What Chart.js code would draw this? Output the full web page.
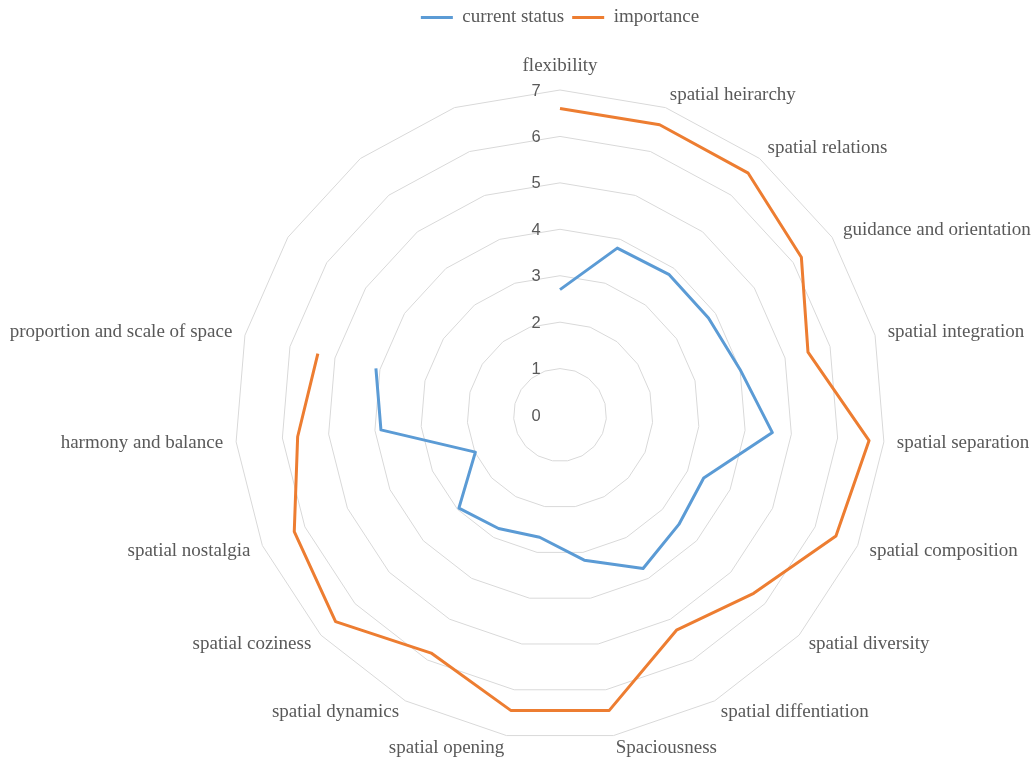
<!DOCTYPE html>
<html>
<head>
<meta charset="utf-8">
<title>Spatial qualities</title>
<script src="https://cdn.jsdelivr.net/npm/chart.js@4"></script>
<style>
  html, body { margin: 0; padding: 0; background: #fff; }
  #wrap { width: 1035px; height: 760px; position: relative; }
</style>
</head>
<body>
<div id="wrap"><canvas id="radar"></canvas></div>
<script>
const categories = [
  "flexibility", "spatial heirarchy", "spatial relations", "guidance and orientation",
  "spatial integration", "spatial separation", "spatial composition", "spatial diversity",
  "spatial diffentiation", "Spaciousness", "spatial opening", "spatial dynamics",
  "spatial coziness", "spatial nostalgia", "harmony and balance", "proportion and scale of space"
];
const currentStatus = [2.7, 3.8, 3.83, 3.82, 4.0, 4.59, 3.38, 3.48, 3.76, 3.17, 2.67, 2.78, 2.96, 1.99, 3.87, 4.09];
const importance = [6.6, 6.61, 6.6, 6.21, 5.51, 6.68, 6.49, 5.67, 5.27, 6.45, 6.45, 5.83, 6.57, 6.25, 5.67, 5.38];
const tickLabels = [0, 1, 2, 3, 4, 5, 6, 7];
const blankSpokes = 3; // unlabeled spokes after the last category

const TEXT_COLOR = "#595959";
const SERIF = '"Liberation Serif", "Times New Roman", serif';
const SANS = '"Liberation Sans", Arial, sans-serif';

const labels = categories.concat(Array(blankSpokes).fill(""));
const pad = arr => arr.concat(Array(blankSpokes).fill(null));

// tick values and category names drawn around the web
const radarText = {
  id: "radarText",
  afterDraw(chart) {
    const r = chart.scales.r;
    const ctx = chart.ctx;
    ctx.save();
    ctx.fillStyle = TEXT_COLOR;

    ctx.font = "16.5px " + SANS;
    ctx.textAlign = "center";
    ctx.textBaseline = "middle";
    tickLabels.forEach(v => {
      ctx.fillText(String(v), r.xCenter - 24, r.yCenter - r.getDistanceFromCenterForValue(v) + 1);
    });

    ctx.font = "19px " + SERIF;
    chart.data.labels.forEach((name, i) => {
      if (!name) return;
      const p = r.getPointPosition(i, r.drawingArea + 13);
      const deg = Math.round(r.getIndexAngle(i) * 180 / Math.PI) % 360;
      if (deg === 0 || deg === 180) ctx.textAlign = "center";
      else ctx.textAlign = deg < 180 ? "left" : "right";
      ctx.fillText(name, p.x, deg === 0 ? p.y - 11 : p.y);
    });
    ctx.restore();
  }
};

new Chart(document.getElementById("radar"), {
  type: "radar",
  data: {
    labels: labels,
    datasets: [
      {
        label: "current status",
        data: pad(currentStatus),
        borderColor: "#5B9BD5",
        backgroundColor: "#5B9BD5",
        borderWidth: 3,
        borderJoinStyle: "round",
        fill: false,
        pointRadius: 0,
        spanGaps: false
      },
      {
        label: "importance",
        data: pad(importance),
        borderColor: "#ED7D31",
        backgroundColor: "#ED7D31",
        borderWidth: 3,
        borderJoinStyle: "round",
        fill: false,
        pointRadius: 0,
        spanGaps: false
      }
    ]
  },
  options: {
    responsive: true,
    maintainAspectRatio: false,
    animation: false,
    layout: { padding: { left: 235, right: 150, bottom: 20 } },
    plugins: {
      legend: {
        position: "top",
        labels: {
          color: TEXT_COLOR,
          font: { family: SERIF, size: 19 },
          usePointStyle: true,
          pointStyle: "line",
          pointStyleWidth: 32,
          padding: 8
        }
      },
      tooltip: { enabled: false }
    },
    scales: {
      r: {
        min: 0,
        max: 7,
        ticks: { stepSize: 1, display: false },
        grid: { color: "#D9D9D9", lineWidth: 1 },
        angleLines: { display: false },
        pointLabels: { display: false },
        // sit the web on the bottom edge of the area, below the legend
        afterFit(scale) {
          scale.yCenter = Math.floor(scale.top + scale.height - scale.drawingArea);
        }
      }
    }
  },
  plugins: [radarText]
});
</script>
</body>
</html>
